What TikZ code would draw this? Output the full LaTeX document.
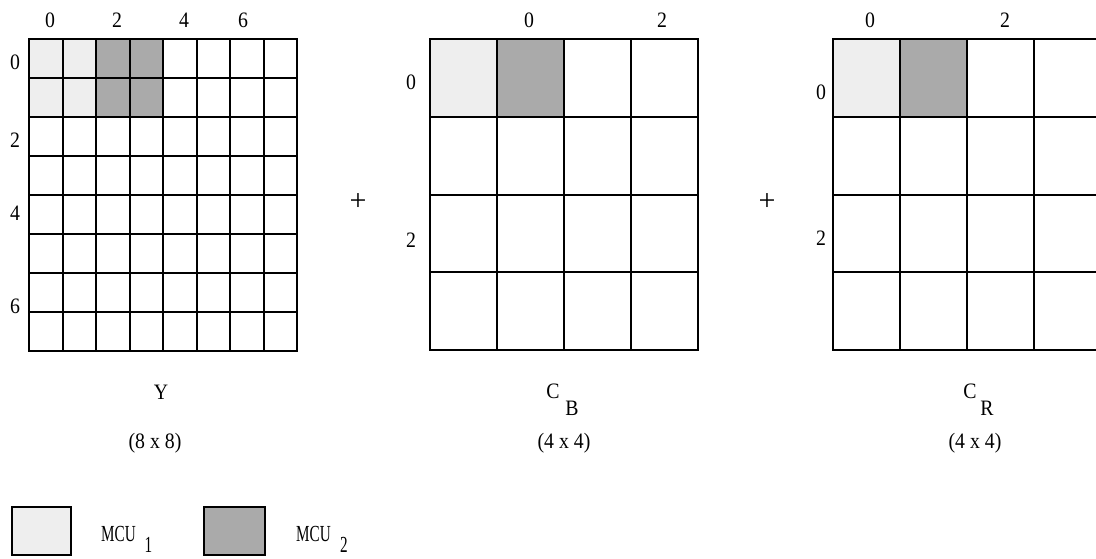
\documentclass[tikz,border=0pt]{standalone}
\usepackage{fontspec}
\setmainfont{Liberation Serif}
\newfontfamily\lblfont[FakeStretch=0.9]{Liberation Serif}
\newfontfamily\mcufont[FakeStretch=0.66]{Liberation Serif}
\definecolor{mcuA}{HTML}{EEEEEE}
\definecolor{mcuB}{HTML}{AAAAAA}
\begin{document}
\begin{tikzpicture}[x=1pt,y=1pt,
  gridline/.style={line width=2pt},
  thinline/.style={line width=1.2pt},
  frame/.style={line width=2.6pt},
  lbl/.style={inner sep=0pt, font=\lblfont\fontsize{22}{26}\selectfont},
  mcu/.style={inner sep=0pt, font=\mcufont\fontsize{23}{26}\selectfont},
  plus/.style={inner sep=0pt, font=\fontsize{30}{32}\selectfont}]
\useasboundingbox[fill=white] (0,0) rectangle (1096,-558);
% ---- Y grid 8x8
\fill[mcuA] (29,-39) rectangle (96,-117);
\fill[mcuB] (96,-39) rectangle (163,-117);
\begin{scope}[shift={(29,-351)}]
  \draw[gridline, xstep=33.5, ystep=39] (0,0) grid (268,312);
  \draw[frame] (0,0) rectangle (268,312);
\end{scope}
% ---- CB grid 4x4
\fill[mcuA] (430,-39) rectangle (497,-116.75);
\fill[mcuB] (497,-39) rectangle (564,-116.75);
\begin{scope}[shift={(430,-350)}]
  \draw[gridline, xstep=67, ystep=77.75] (0,0) grid (268,311);
  \draw[frame] (0,0) rectangle (268,311);
\end{scope}
% ---- CR grid 4x4
\fill[mcuA] (833,-39) rectangle (900,-116.75);
\fill[mcuB] (900,-39) rectangle (967,-116.75);
\begin{scope}[shift={(833,-350)}]
  \foreach \r in {77.75,155.5,233.25} \draw[gridline] (0,\r) -- (268,\r);
  \foreach \c in {67,134} \draw[gridline] (\c,0) -- (\c,311);
  \draw[thinline] (201,0) -- (201,311);
  \draw[frame] (0,0) rectangle (268,311);
\end{scope}
% ---- Y labels
\node[lbl] (yc0) at (50,-20) {0};
\node[lbl] (yc2) at (117,-20) {2};
\node[lbl] (yc4) at (184,-20) {4};
\node[lbl] (yc6) at (243,-20) {6};
\node[lbl] (yr0) at (15,-62) {0};
\node[lbl] (yr2) at (15,-140) {2};
\node[lbl] (yr4) at (15,-213) {4};
\node[lbl] (yr6) at (15,-306) {6};
% ---- CB labels
\node[lbl] (bc0) at (529,-20) {0};
\node[lbl] (bc2) at (662,-20) {2};
\node[lbl] (br0) at (411,-82) {0};
\node[lbl] (br2) at (411,-240) {2};
% ---- CR labels
\node[lbl] (rc0) at (870,-20) {0};
\node[lbl] (rc2) at (1005,-20) {2};
\node[lbl] (rr0) at (821,-92) {0};
\node[lbl] (rr2) at (821,-238) {2};
% ---- plus signs
\node[plus] (p1) at (358,-202) {+};
\node[plus] (p2) at (767,-202) {+};
% ---- captions
\node[lbl] (ny) at (161,-392) {Y};
\node[lbl] (sy) at (155,-443) {(8 x 8)};
\node[lbl] (ncb) at (553,-391) {C};
\node[lbl] (ncbs) at (572,-408) {B};
\node[lbl] (scb) at (564,-443) {(4 x 4)};
\node[lbl] (ncr) at (970,-391) {C};
\node[lbl] (ncrs) at (987,-408) {R};
\node[lbl] (scr) at (975,-443) {(4 x 4)};
% ---- legend
\draw[frame, fill=mcuA] (12,-507) rectangle (71,-555);
\node[mcu] (m1) at (118.5,-534) {MCU};
\node[mcu] (m1s) at (148.5,-545) {1};
\draw[frame, fill=mcuB] (204,-507) rectangle (265,-555);
\node[mcu] (m2) at (313.5,-534) {MCU};
\node[mcu] (m2s) at (344,-545) {2};
\end{tikzpicture}
\end{document}
